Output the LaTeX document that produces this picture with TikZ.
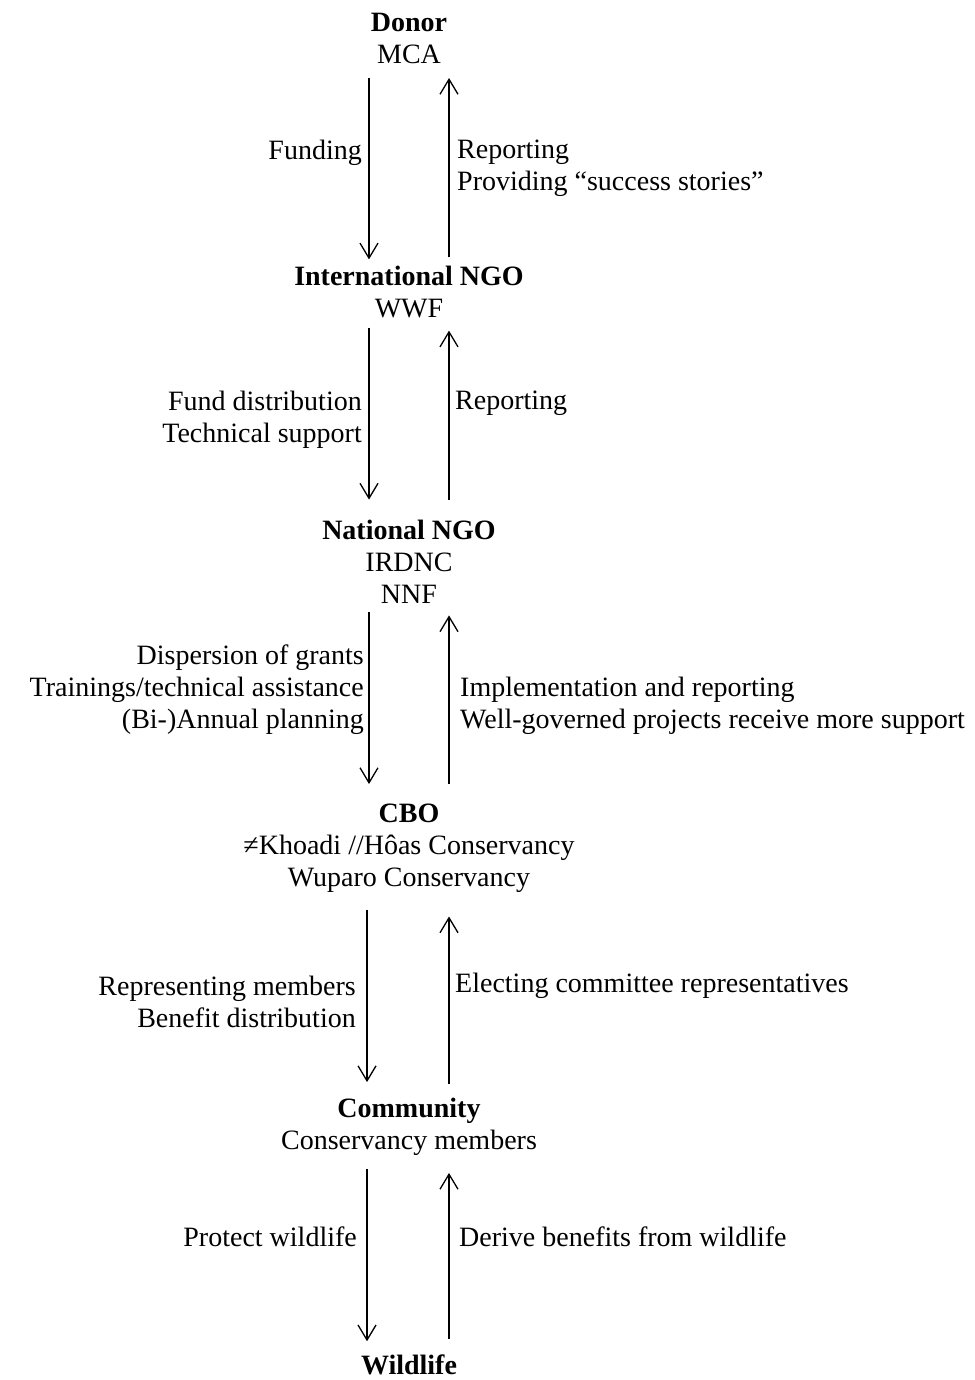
\documentclass[tikz,border=0pt]{standalone}
\usepackage{fontspec}
\setmainfont{Liberation Serif}
\usetikzlibrary{arrows.meta}
\tikzset{
  >={Straight Barb[length=15pt,width=18pt]},
  tier/.style={
    align=center, inner sep=0pt, font=\fontsize{28}{32}\selectfont
  },
  notel/.style={
    anchor=east, align=right, inner sep=0pt, font=\fontsize{28}{32}\selectfont
  },
  noter/.style={
    anchor=west, align=left, inner sep=0pt, font=\fontsize{28}{32}\selectfont
  },
  flow/.style={->, line width=1.3pt},
}
\begin{document}
\begin{tikzpicture}[x=1pt, y=-1pt]
  \useasboundingbox (0,0) rectangle (974,1380);

  \node[tier] (donor) at (409,38) {\textbf{Donor}\\MCA};
  \node[tier] (ingo) at (409,291.5) {\textbf{International NGO}\\WWF};
  \node[tier] (nngo) at (409,561.5) {\textbf{National NGO}\\IRDNC\\NNF};
  \node[tier] (cbo) at (409,848) {\textbf{CBO}\\≠Khoadi //Hôas Conservancy\\Wuparo Conservancy};
  \node[tier] (comm) at (409,1127) {\textbf{Community}\\Conservancy members};
  \node[tier] (wild) at (409,1364.5) {\textbf{Wildlife}};

  % downwards
  \draw[flow, shorten <=14.5pt, shorten >=6pt] ([xshift=-40pt]donor.south) -- ([xshift=-40pt]ingo.north);
  \draw[flow, shorten <=10pt, shorten >=20pt] ([xshift=-40pt]ingo.south) -- ([xshift=-40pt]nngo.north);
  \draw[flow, shorten <=9pt, shorten >=19.5pt] ([xshift=-40pt]nngo.south) -- ([xshift=-40pt]cbo.north);
  \draw[flow, shorten <=17pt, shorten >=16pt] ([xshift=-42pt]cbo.south) -- ([xshift=-42pt]comm.north);
  \draw[flow, shorten <=13pt, shorten >=13pt] ([xshift=-42pt]comm.south) -- ([xshift=-42pt]wild.north);

  % upwards
  \draw[flow, shorten <=8pt, shorten >=14.5pt] ([xshift=40pt]ingo.north) -- ([xshift=40pt]donor.south);
  \draw[flow, shorten <=20pt, shorten >=13pt] ([xshift=40pt]nngo.north) -- ([xshift=40pt]ingo.south);
  \draw[flow, shorten <=19.5pt, shorten >=12pt] ([xshift=40pt]cbo.north) -- ([xshift=40pt]nngo.south);
  \draw[flow, shorten <=14pt, shorten >=24pt] ([xshift=40pt]comm.north) -- ([xshift=40pt]cbo.south);
  \draw[flow, shorten <=15pt, shorten >=17pt] ([xshift=40pt]wild.north) -- ([xshift=40pt]comm.south);

  % labels
  \node[notel] (l1) at (362,152.5) {Funding};
  \node[noter] (r1) at (457,168) {Reporting\\Providing “success stories”};
  \node[notel] (l2) at (362,420) {Fund distribution\\Technical support};
  \node[noter] (r2) at (455,403.5) {Reporting};
  \node[notel] (l3) at (364,689.5) {Dispersion of grants\\Trainings/technical assistance\\(Bi-)Annual planning};
  \node[noter] (r3) at (460,706) {Implementation and reporting\\Well-governed projects receive more support};
  \node[notel] (l4) at (356,1002) {Representing members\\Benefit distribution};
  \node[noter] (r4) at (455,985.5) {Electing committee representatives};
  \node[notel] (l5) at (357,1236.5) {Protect wildlife};
  \node[noter] (r5) at (459,1236.5) {Derive benefits from wildlife};
\end{tikzpicture}
\end{document}
